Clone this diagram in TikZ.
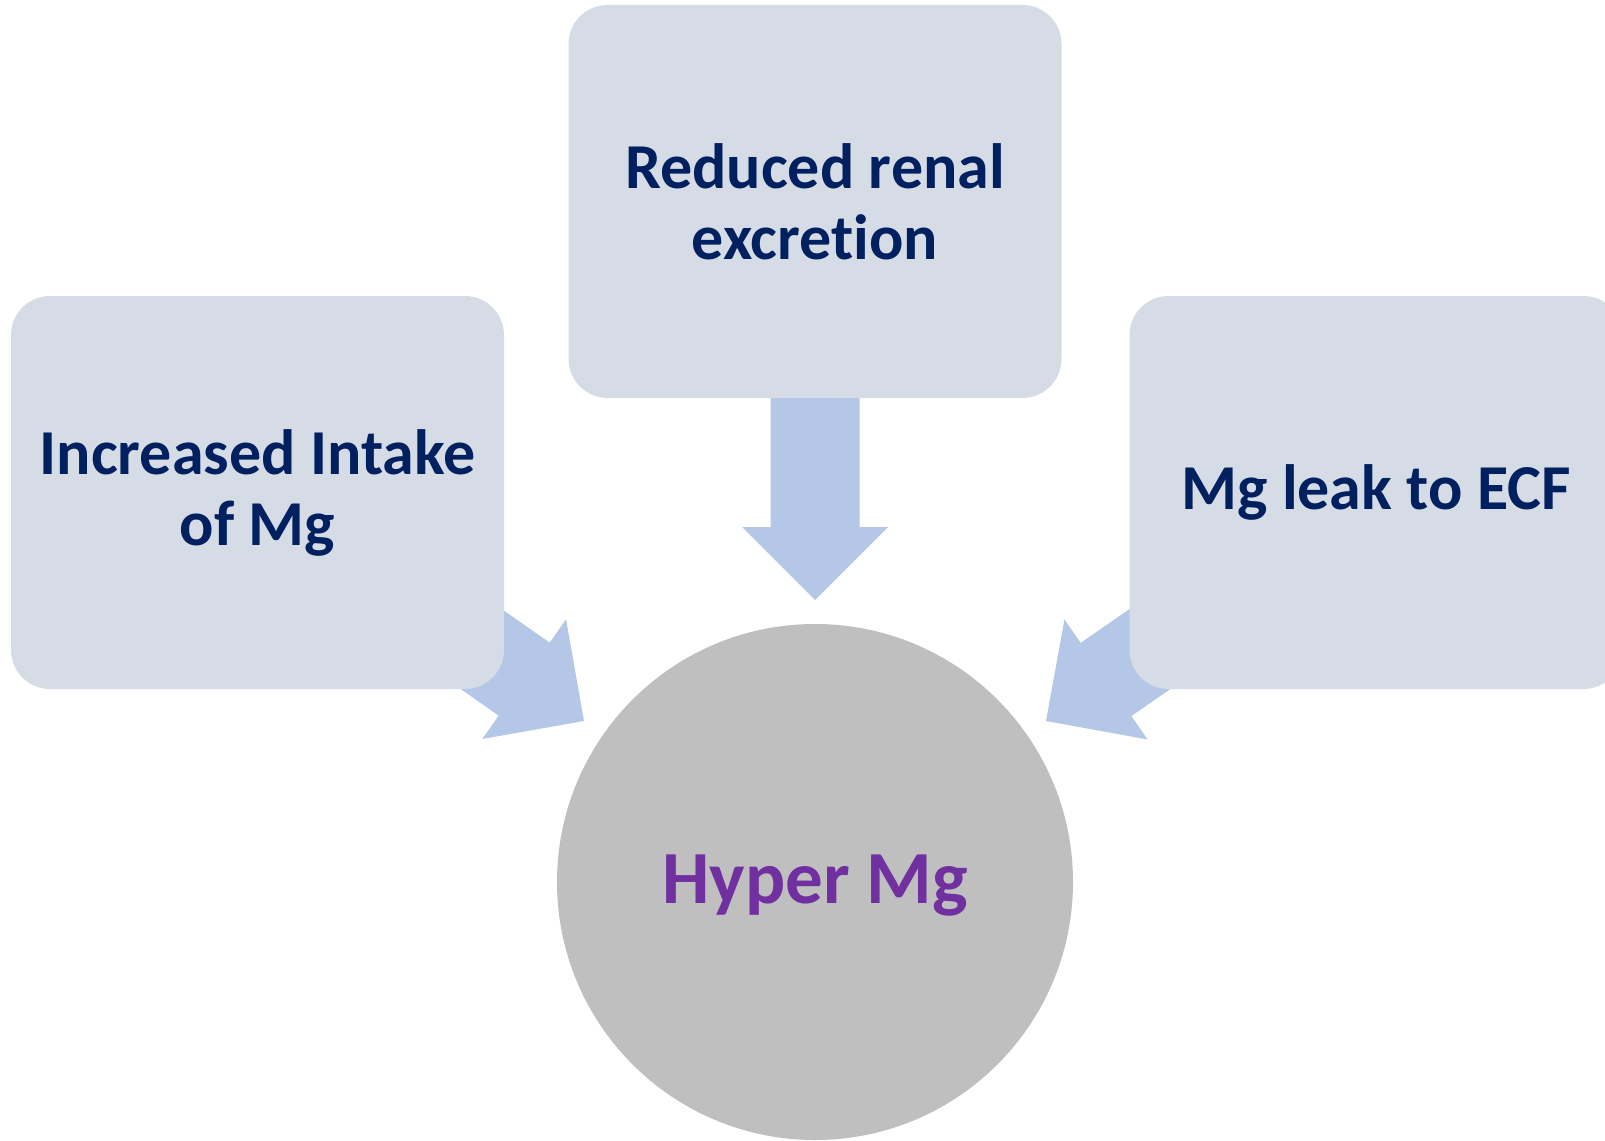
\documentclass[tikz,border=0pt]{standalone}
\usepackage{fontspec}
\setmainfont[RawFeature=-liga]{Carlito}
\usetikzlibrary{calc,backgrounds}

\definecolor{boxfill}{HTML}{D6DCE5}
\definecolor{arrowfill}{HTML}{B4C7E7}
\definecolor{circlefill}{HTML}{BFBFBF}
\definecolor{navytext}{HTML}{002060}
\definecolor{purpletext}{HTML}{7030A0}

\tikzset{
  causebox/.style={rectangle, rounded corners=39pt, fill=boxfill,
    minimum width=493pt, minimum height=393pt, inner sep=0pt,
    align=center, text=navytext,
    font=\bfseries\fontsize{64}{71}\selectfont},
  resultdisc/.style={circle, fill=circlefill, minimum size=516pt,
    inner sep=0pt, text=purpletext,
    font=\bfseries\fontsize{75}{88}\selectfont},
  blockarrow/.style={fill=arrowfill}
}

% block arrow from #1 to the tip #2: shaft half width 44.5, head half width 73
\newcommand\causearrow[2]{%
  \coordinate (hb) at ($(#2)!73pt!(#1)$);
  \fill[blockarrow]
    ($(#1)!44.5pt!90:(#2)$) -- ($(hb)!44.5pt!-90:(#1)$) --
    ($(hb)!73pt!-90:(#1)$) -- (#2) -- ($(hb)!73pt!90:(#1)$) --
    ($(hb)!44.5pt!90:(#1)$) -- ($(#1)!44.5pt!-90:(#2)$) -- cycle;
}

\begin{document}
\begin{tikzpicture}[x=1pt,y=-1pt]
  \useasboundingbox (0,0) rectangle (1605,1140);
  \clip (0,0) rectangle (1605,1140);

  \node[causebox] (renal)  at (815,201.5)  {Reduced renal\\excretion};
  \node[causebox] (intake) at (257.5,492.5) {Increased Intake\\of Mg};
  \node[causebox] (leak)   at (1376,492.5) {Mg leak to ECF};
  \node[resultdisc] (hyper) at (815,882) {};
  \node[text=purpletext, font=\bfseries\fontsize{75}{88}\selectfont]
    (hyperlabel) at ($(hyper.center)+(0,4)$) {Hyper Mg};

  \coordinate (tipA) at (584,721);
  \coordinate (tipB) at (815,600);
  \coordinate (tipC) at (1046,721);

  \begin{scope}[on background layer]
    \causearrow{intake}{tipA}
    \causearrow{renal}{tipB}
    \causearrow{leak}{tipC}
  \end{scope}
\end{tikzpicture}
\end{document}
